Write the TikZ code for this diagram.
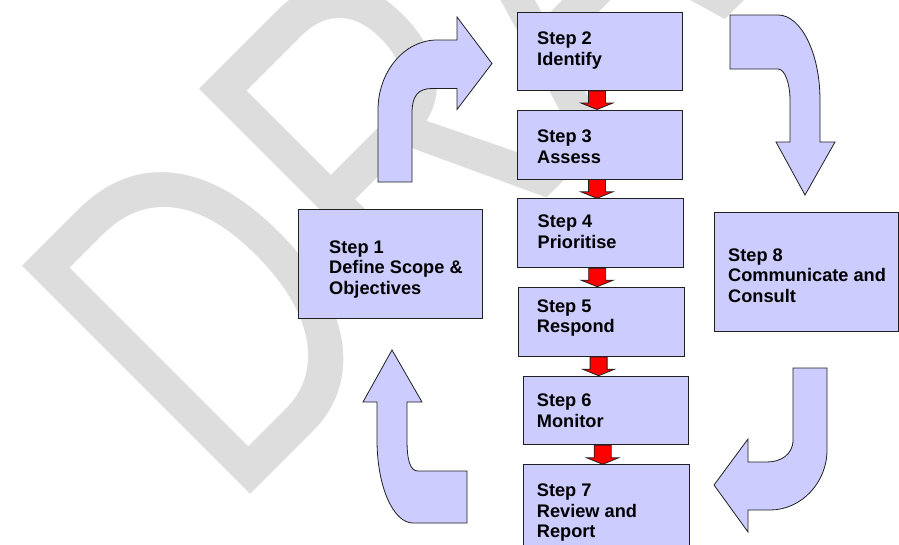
\documentclass[tikz,border=0pt]{standalone}
\usepackage{fontspec}
\setmainfont{Liberation Sans}
\usetikzlibrary{calc}
\definecolor{boxfill}{HTML}{CCCCFF}
\definecolor{wmgray}{HTML}{DDDDDD}
\definecolor{edge}{HTML}{202020}
\newcommand{\redconn}[2]{%
  \draw[redarrow] let \p1=(#1.south), \p2=(#2.north) in
    ({\x1-11.5pt},\y1) -- ({\x1-11.5pt},{\y2+6.5pt}) -- ({\x1-19pt},{\y2+6.5pt})
    -- ({\x1-3pt},\y2) -- ({\x1+13pt},{\y2+6.5pt}) -- ({\x1+5.5pt},{\y2+6.5pt})
    -- ({\x1+5.5pt},\y1) -- cycle;}
\begin{document}
\begin{tikzpicture}[x=1pt,y=-1pt,
  stepbox/.style={draw=edge, line width=0.9pt, fill=boxfill, rectangle, inner sep=0pt, anchor=north west},
  steptext/.style={font=\bfseries\fontsize{18.2}{20.6}\selectfont, align=left, anchor=base west, inner sep=0pt},
  bendarrow/.style={draw=edge, line width=0.8pt, fill=boxfill, line join=miter},
  redarrow/.style={draw=edge, line width=0.8pt, fill=red}]
\useasboundingbox (0,0) rectangle (899,544);
\begin{scope}
  \clip (0,0) rectangle (899,544);
  \node[text=wmgray, font=\fontsize{469}{469}\selectfont, anchor=base west, inner sep=0pt,
        rotate=45, xscale=0.74] (wm) at (230.6,514.4) {DRAFT};
\end{scope}

% curved block arrows
\draw[bendarrow] (378,182) -- (378,110) .. controls (378,71.5) and (404.5,40) .. (437,40)
  -- (457,40) -- (457,17) -- (492,63.5) -- (457,109.5) -- (457,88.5) -- (432,88.5)
  .. controls (418,88.5) and (412,96) .. (412,113) -- (412,182) -- cycle;
\draw[bendarrow] (730,15) -- (778,15) .. controls (801,15) and (820,53) .. (820,100)
  -- (820,142) -- (835,142) -- (805,195) -- (776,142) -- (790,142) -- (790,100)
  .. controls (790,84) and (785,69) .. (778,69) -- (730,69) -- cycle;
\draw[bendarrow] (793,368) -- (827,368) -- (827,450) .. controls (827,483) and (801,510) .. (770,510)
  -- (748,510) -- (748,532) -- (714,485) -- (748,439) -- (748,462) -- (767,462)
  .. controls (780,462) and (793,455) .. (793,440) -- cycle;
\draw[bendarrow] (467,471) -- (467,523) -- (413,523) .. controls (393,523) and (377,486) .. (377,440)
  -- (377,402) -- (363,402) -- (392,350) -- (422,402) -- (407,402) -- (407,440)
  .. controls (407,460) and (410,471) .. (418,471) -- cycle;

% boxes
\node[stepbox, minimum width=183.4pt, minimum height=109pt] (s1) at (298.3,209.3) {};
\node[stepbox, minimum width=165pt, minimum height=77.7pt] (s2) at (517,12.3) {};
\node[stepbox, minimum width=165pt, minimum height=69pt] (s3) at (517,109.5) {};
\node[stepbox, minimum width=165.5pt, minimum height=69pt] (s4) at (517,198.3) {};
\node[stepbox, minimum width=165.7pt, minimum height=69.3pt] (s5) at (518.3,286.7) {};
\node[stepbox, minimum width=165pt, minimum height=68.6pt] (s6) at (522.7,375.7) {};
\node[stepbox, minimum width=165.4pt, minimum height=90pt] (s7) at (523.3,464.3) {};
\node[stepbox, minimum width=184pt, minimum height=119pt] (s8) at (714,212) {};

% texts (anchor = baseline of the last line)
\node[steptext] (t1) at ($(s1.north west)+(30.7,85)$) {Step 1\\Define Scope \&\\Objectives};
\node[steptext] (t2) at ($(s2.north west)+(20,52.7)$) {Step 2\\Identify};
\node[steptext] (t3) at ($(s3.north west)+(20,53.8)$) {Step 3\\Assess};
\node[steptext] (t4) at ($(s4.north west)+(20.5,50)$) {Step 4\\Prioritise};
\node[steptext] (t5) at ($(s5.north west)+(18.4,46)$) {Step 5\\Respond};
\node[steptext] (t6) at ($(s6.north west)+(14,51.6)$) {Step 6\\Monitor};
\node[steptext] (t7) at ($(s7.north west)+(13.4,73.4)$) {Step 7\\Review and\\Report};
\node[steptext] (t8) at ($(s8.north west)+(14,90.5)$) {Step 8\\Communicate and\\Consult};

% red connectors
\redconn{s2}{s3}
\redconn{s3}{s4}
\redconn{s4}{s5}
\redconn{s5}{s6}
\redconn{s6}{s7}
\end{tikzpicture}
\end{document}
